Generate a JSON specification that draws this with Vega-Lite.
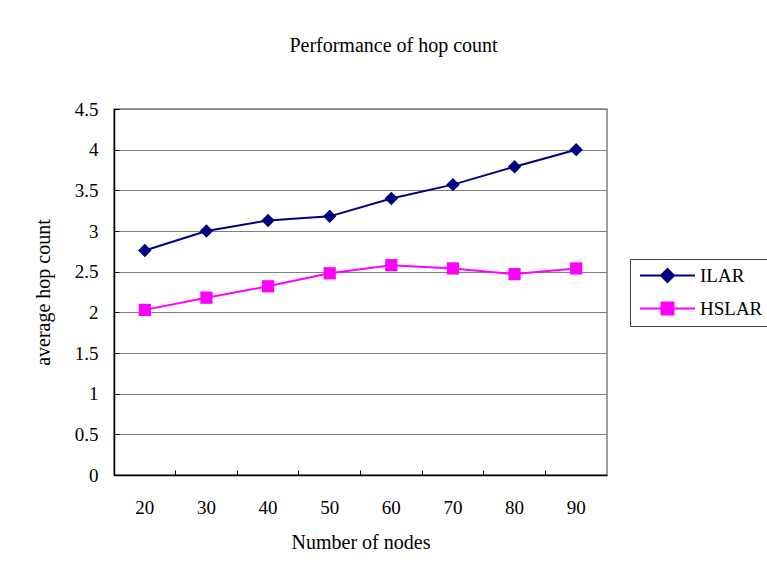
{
  "$schema": "https://vega.github.io/schema/vega-lite/v6.json",
  "autosize": {"type": "none"},
  "width": 493,
  "height": 366,
  "padding": {"left": 114, "top": 109, "right": 160, "bottom": 98},
  "background": "white",
  "config": {
    "font": "Liberation Serif",
    "view": {"stroke": "#808080", "strokeWidth": 1.5}
  },
  "title": {
    "text": "Performance of hop count",
    "fontSize": 20,
    "fontWeight": "normal",
    "font": "Liberation Serif",
    "color": "black",
    "anchor": "middle",
    "dx": 33,
    "offset": 44
  },
  "data": {
    "values": [
      {"nodes": 20, "series": "ILAR", "hops": 2.76},
      {"nodes": 30, "series": "ILAR", "hops": 3.0},
      {"nodes": 40, "series": "ILAR", "hops": 3.13},
      {"nodes": 50, "series": "ILAR", "hops": 3.18},
      {"nodes": 60, "series": "ILAR", "hops": 3.4},
      {"nodes": 70, "series": "ILAR", "hops": 3.57},
      {"nodes": 80, "series": "ILAR", "hops": 3.79},
      {"nodes": 90, "series": "ILAR", "hops": 4.0},
      {"nodes": 20, "series": "HSLAR", "hops": 2.03},
      {"nodes": 30, "series": "HSLAR", "hops": 2.18},
      {"nodes": 40, "series": "HSLAR", "hops": 2.32},
      {"nodes": 50, "series": "HSLAR", "hops": 2.48},
      {"nodes": 60, "series": "HSLAR", "hops": 2.58},
      {"nodes": 70, "series": "HSLAR", "hops": 2.54},
      {"nodes": 80, "series": "HSLAR", "hops": 2.47},
      {"nodes": 90, "series": "HSLAR", "hops": 2.54}
    ]
  },
  "encoding": {
    "x": {
      "field": "nodes",
      "type": "ordinal",
      "sort": null,
      "scale": {"type": "band", "paddingInner": 0, "paddingOuter": 0},
      "axis": {
        "title": "Number of nodes",
        "titleFontSize": 20,
        "titleFontWeight": "normal",
        "titleColor": "black",
        "titlePadding": 15,
        "labelAngle": 0,
        "labelFontSize": 19,
        "labelColor": "black",
        "labelPadding": 28,
        "bandPosition": 0,
        "tickExtra": true,
        "tickSize": -5,
        "tickColor": "black",
        "domainColor": "black",
        "domainWidth": 1.5,
        "grid": false
      }
    },
    "y": {
      "field": "hops",
      "type": "quantitative",
      "scale": {"domain": [0, 4.5], "nice": false},
      "axis": {
        "title": "average hop count",
        "titleFontSize": 20,
        "titleFontWeight": "normal",
        "titleColor": "black",
        "titlePadding": 21,
        "values": [0, 0.5, 1, 1.5, 2, 2.5, 3, 3.5, 4, 4.5],
        "format": "~g",
        "labelFontSize": 19,
        "labelColor": "black",
        "labelPadding": 21,
        "tickSize": -5,
        "tickColor": "black",
        "domainColor": "black",
        "domainWidth": 1.5,
        "grid": true,
        "gridColor": "#808080",
        "gridWidth": 1.2
      }
    },
    "color": {
      "field": "series",
      "type": "nominal",
      "scale": {"domain": ["ILAR", "HSLAR"], "range": ["#000080", "#ff00ff"]},
      "legend": {
        "orient": "none",
        "legendX": 516,
        "legendY": 150,
        "title": null,
        "strokeColor": "#404040",
        "fillColor": "white",
        "padding": 7,
        "labelFont": "Liberation Serif",
        "labelFontSize": 19,
        "labelColor": "black",
        "labelOffset": 44,
        "rowPadding": 12,
        "symbolSize": 169,
        "symbolStrokeWidth": 2,
        "symbolOpacity": 1,
        "encode": {
          "symbols": {
            "update": {
              "shape": {"signal": "datum.value === 'ILAR' ? 'M-1,0L7.46,0M3.23,-1L4.23,0L3.23,1L2.23,0Z' : 'M-1,0L7.46,0M2.31,-0.92L4.15,-0.92L4.15,0.92L2.31,0.92Z'"},
              "fill": {"signal": "datum.value === 'ILAR' ? '#000080' : '#ff00ff'"},
              "stroke": {"signal": "datum.value === 'ILAR' ? '#000080' : '#ff00ff'"}
            }
          }
        }
      }
    }
  },
  "layer": [
    {"mark": {"type": "line", "strokeWidth": 2}},
    {
      "transform": [{"filter": "datum.series === 'ILAR'"}],
      "mark": {"type": "point", "filled": true, "opacity": 1, "shape": "diamond", "size": 180}
    },
    {
      "transform": [{"filter": "datum.series === 'HSLAR'"}],
      "mark": {"type": "point", "filled": true, "opacity": 1, "shape": "square", "size": 150}
    }
  ]
}
